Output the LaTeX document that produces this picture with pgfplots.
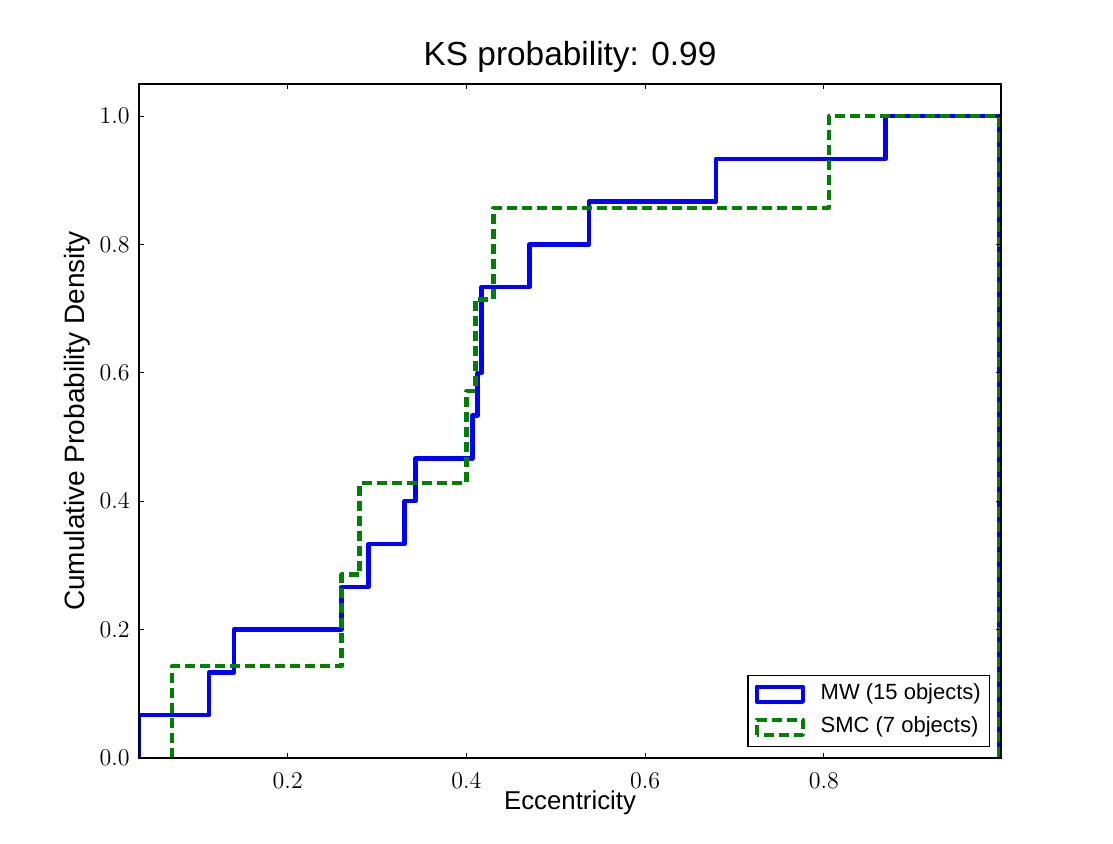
\documentclass[border=0pt]{standalone}
\usepackage{fontspec}
\setmainfont{Liberation Sans}
\usepackage{pgfplots}
\pgfplotsset{compat=1.18}
\definecolor{mplblue}{RGB}{0,0,255}
\definecolor{mplgreen}{RGB}{0,128,0}
\begin{document}
\begin{tikzpicture}
\begin{axis}[
  at={(0,0)}, anchor=south west,
  scale only axis, width=431pt, height=337pt,
  xmin=0.0335, xmax=0.9983, ymin=0, ymax=1.05,
  xtick={0.2,0.4,0.6,0.8}, ytick={0,0.2,0.4,0.6,0.8,1.0},
  xtick pos=both, ytick pos=both,
  xticklabel pos=lower, yticklabel pos=left,
  tick align=inside, major tick length=2.6pt,
  tick style={black, line width=0.5pt},
  axis line style={line width=0.6pt},
  axis on top,
  every tick label/.append style={font=\fontsize{12.4}{14}\selectfont},
  xticklabel style={anchor=north, inner sep=0pt, yshift=-7.5pt,
    /pgf/number format/.cd, fixed, fixed zerofill, precision=1},
  yticklabel style={anchor=east, inner sep=0pt, xshift=-4.5pt,
    /pgf/number format/.cd, fixed, fixed zerofill, precision=1},
  title={KS probability: 0.99},
  title style={at={([yshift=3.5pt]axis description cs:0.5,1)}, anchor=base,
    font=\fontsize{16.7}{19}\selectfont},
  xlabel={Eccentricity},
  xlabel style={at={([yshift=-25.65pt]axis description cs:0.5,0)}, anchor=base,
    font=\fontsize{12.9}{15}\selectfont},
  ylabel={Cumulative Probability Density},
  ylabel style={at={([xshift=-27pt]axis description cs:0,0.5)}, anchor=base, rotate=0,
    font=\fontsize{14}{16}\selectfont},
  legend style={at={([xshift=-5.5pt,yshift=5.5pt]axis description cs:1,0)},
    anchor=south east, draw=black, line width=0.6pt, inner sep=3.3pt,
    row sep=4pt, column sep=6.85pt,
    font=\fontsize{11}{13}\selectfont,
    nodes={inner sep=1pt, text height=8pt, text depth=2.5pt},
    cells={anchor=west}},
  legend image code/.code={\draw[#1] (0pt,-3.75pt) rectangle (23pt,3.75pt);},
]
\addplot[mplblue, line width=2.2pt, line join=round] coordinates {
(0.0335,0) (0.0335,0.0667) (0.1117,0.0667) (0.1117,0.1333) (0.1396,0.1333)
(0.1396,0.2) (0.2603,0.2) (0.2603,0.2667) (0.2905,0.2667) (0.2905,0.3333)
(0.3307,0.3333) (0.3307,0.4) (0.3430,0.4) (0.3430,0.4667) (0.4067,0.4667)
(0.4067,0.5333) (0.4123,0.5333) (0.4123,0.6) (0.4167,0.6) (0.4167,0.7333)
(0.4704,0.7333) (0.4704,0.8) (0.5374,0.8) (0.5374,0.8667) (0.6793,0.8667)
(0.6793,0.9333) (0.8692,0.9333) (0.8692,1) (0.9966,1) (0.9966,0)
};
\addlegendentry{MW (15 objects)}
\addplot[mplgreen, line width=2.2pt, line join=round, dash pattern=on 5pt off 2.5pt] coordinates {
(0.0704,0) (0.0704,0.1429) (0.2603,0.1429) (0.2603,0.2857) (0.2804,0.2857)
(0.2804,0.4286) (0.4000,0.4286) (0.4000,0.5714) (0.4100,0.5714) (0.4100,0.7143)
(0.4302,0.7143) (0.4302,0.8571) (0.8056,0.8571) (0.8056,1) (0.9966,1) (0.9966,0)
};
\addlegendentry{SMC (7 objects)}
\end{axis}
\pgfresetboundingbox
\path[use as bounding box] (-69.5pt,-42.5pt) rectangle (487pt,379pt);
\end{tikzpicture}
\end{document}
